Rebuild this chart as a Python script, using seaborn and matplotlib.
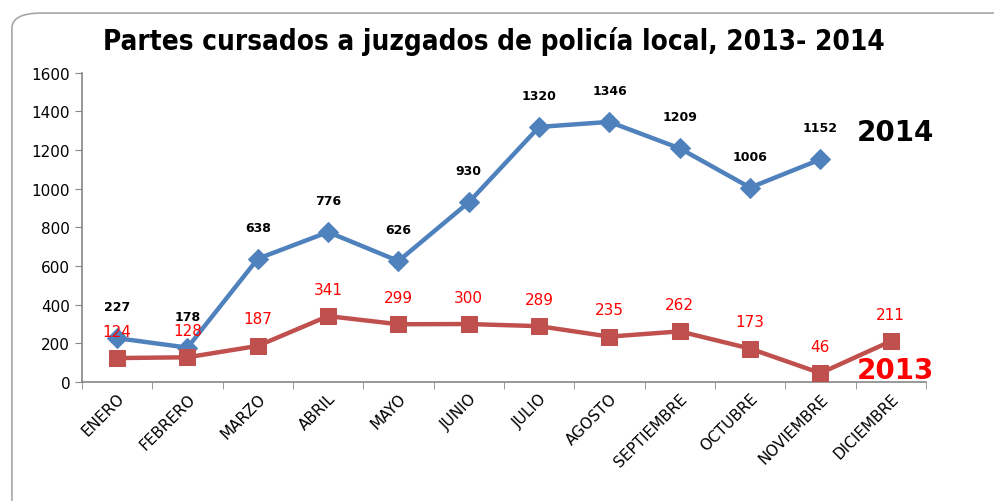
"""Partes cursados a juzgados de policia local, 2013-2014."""

import matplotlib.pyplot as plt
import numpy as np
import pandas as pd
import seaborn as sns
from matplotlib.patches import FancyBboxPatch

months = ["ENERO", "FEBRERO", "MARZO", "ABRIL", "MAYO", "JUNIO", "JULIO",
          "AGOSTO", "SEPTIEMBRE", "OCTUBRE", "NOVIEMBRE", "DICIEMBRE"]
values_2014 = [227, 178, 638, 776, 626, 930, 1320, 1346, 1209, 1006, 1152]
values_2013 = [124, 128, 187, 341, 299, 300, 289, 235, 262, 173, 46, 211]

BLUE = "#4F81BD"
RED = "#C0504D"

sns.set_style("white")
plt.rcParams["font.family"] = ["DejaVu Sans"]
plt.rcParams["text.color"] = "black"
plt.rcParams["xtick.labelcolor"] = "black"
plt.rcParams["ytick.labelcolor"] = "black"

fig = plt.figure(figsize=(9.94, 5.02), dpi=100)
ax = fig.add_axes([0.0825, 0.237, 0.849, 0.616])

# rounded frame around the chart
frame = FancyBboxPatch((0.012, -0.05), 1.05, 1.022,
                       boxstyle="round,pad=0,rounding_size=0.03",
                       transform=fig.transFigure, facecolor="none",
                       edgecolor="#A6A6A6", linewidth=1.2, zorder=-1)
fig.patches.append(frame)

df14 = pd.DataFrame({"x": np.arange(len(values_2014)), "y": values_2014})
df13 = pd.DataFrame({"x": np.arange(len(values_2013)), "y": values_2013})

sns.lineplot(data=df14, x="x", y="y", ax=ax, color=BLUE, linewidth=3.2,
             marker="D", markersize=10, markeredgecolor=BLUE, zorder=3)
sns.lineplot(data=df13, x="x", y="y", ax=ax, color=RED, linewidth=3.2,
             marker="s", markersize=12, markeredgecolor=RED, zorder=3)

for i, v in enumerate(values_2014):
    ax.annotate(str(v), (i, v), xytext=(0, 18), textcoords="offset points",
                ha="center", va="bottom", fontsize=9, fontweight="bold",
                color="black")
for i, v in enumerate(values_2013):
    ax.annotate(str(v), (i, v), xytext=(0, 14), textcoords="offset points",
                ha="center", va="bottom", fontsize=11, color="red")

ax.set_xlim(-0.5, len(months) - 0.5)
ax.set_ylim(0, 1600)
ax.set_yticks(range(0, 1601, 200))
ax.set_xticks(np.arange(len(months)))
ax.set_xticklabels(months, rotation=45, ha="right", rotation_mode="anchor",
                   fontsize=11)
ax.set_xticks(np.arange(len(months) + 1) - 0.5, minor=True)
ax.tick_params(axis="x", which="major", length=0, pad=6)
ax.tick_params(axis="x", which="minor", length=5, color="#868686",
               direction="out", bottom=True)
ax.tick_params(axis="y", length=5, color="#868686", direction="out",
               left=True, labelsize=11)
ax.set_xlabel("")
ax.set_ylabel("")
for side in ["top", "right"]:
    ax.spines[side].set_visible(False)
for side in ["left", "bottom"]:
    ax.spines[side].set_color("#868686")
    ax.spines[side].set_linewidth(1.2)

fig.text(0.497, 0.918, "Partes cursados a juzgados de policía local, 2013- 2014",
         ha="center", va="center", fontsize=20, fontweight="bold",
         fontstretch="condensed", color="black")
fig.text(0.94, 0.735, "2014", ha="right", va="center", fontsize=20,
         fontweight="bold", color="black")
fig.text(0.94, 0.26, "2013", ha="right", va="center", fontsize=20,
         fontweight="bold", color="red")

fig.savefig("out.png", dpi=100)
